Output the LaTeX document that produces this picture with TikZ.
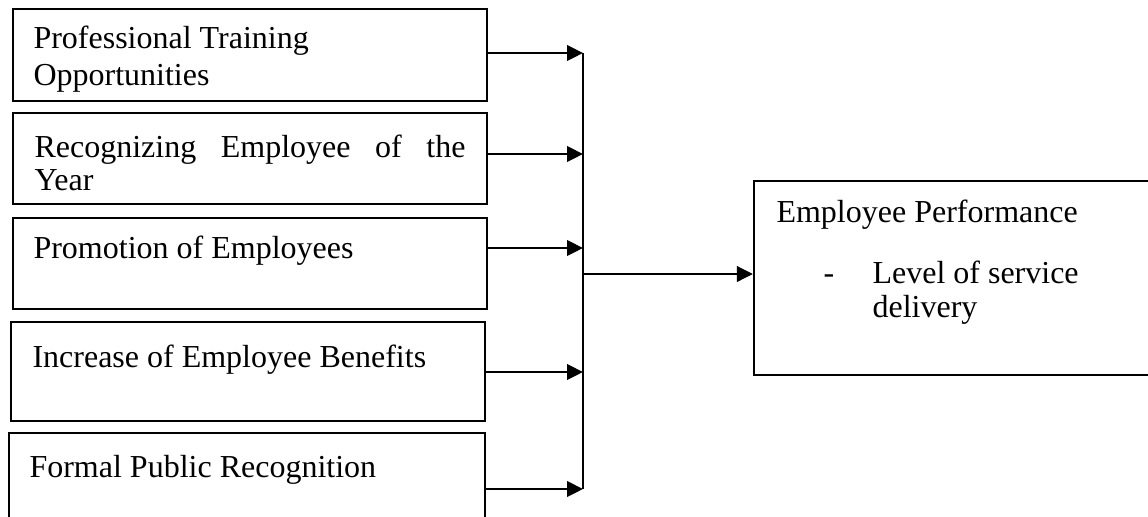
\documentclass[tikz,border=0pt]{standalone}
\usepackage{fontspec}
\setmainfont{Liberation Serif}
\usepackage{tikz}
\usetikzlibrary{arrows.meta,positioning,fit}
\newcommand{\stacked}[1]{\begin{tabular}[t]{@{}l@{}}#1\end{tabular}}

\begin{document}
\begin{tikzpicture}[x=0.375pt,y=-0.375pt,
	box/.style={draw,line width=0.85pt,inner sep=0pt},
	txt/.style={anchor=base west,inner sep=0pt,align=left,font=\fontsize{12}{13}\selectfont},
	link/.style={line width=0.95pt},
	arr/.style={line width=0.95pt,-{Triangle[length=6pt,width=5.8pt]}}]
				\useasboundingbox (0,0) rectangle (1148,516);
				\clip (0,0) rectangle (1148,516);

				\node[box,fit={(13,9) (487,101)}] (B1) {};
				\node[box,fit={(13,113) (487,204)}] (B2) {};
				\node[box,fit={(13,218) (487,309)}] (B3) {};
				\node[box,fit={(11,322) (485,421)}] (B4) {};
				\node[box,fit={(9,433) (485,540)}] (B5) {};
				\node[box,fit={(754,181) (1170,375)}] (P) {};

				\node[txt] (T1) at (33,48) {\stacked{Professional Training\\[1.2pt]Opportunities}};
				\node[txt,text width=161.6pt] (T2) at (34,157) {Recognizing\hfill Employee\hfill of\hfill the\\[-0.6pt]Year};
				\node[txt] (T3) at (33,258) {Promotion of Employees};
				\node[txt] (T4) at (32,367) {Increase of Employee Benefits};
				\node[txt] (T5) at (29,477) {Formal Public Recognition};
				\node[txt] (TP) at (776,222) {Employee Performance};
				\node[txt] (TD) at (823,283) {-};
				\node[txt] (TL) at (872,283) {\stacked{Level of service\\[-0.2pt]delivery}};

				\coordinate (J1) at (583,53);
				\coordinate (J2) at (583,154);
				\coordinate (J3) at (583,248);
				\coordinate (J4) at (583,372);
				\coordinate (J5) at (583,489);
				\coordinate (JO) at (583,274);

				\draw[arr] (B1.east |- J1) -- (J1);
				\draw[arr] (B2.east |- J2) -- (J2);
				\draw[arr] (B3.east |- J3) -- (J3);
				\draw[arr] (B4.east |- J4) -- (J4);
				\draw[arr] (B5.east |- J5) -- (J5);
				\draw[link] (J1) -- (J5);
				\draw[arr] (JO) -- (P.west |- JO);
			\end{tikzpicture}
\end{document}
